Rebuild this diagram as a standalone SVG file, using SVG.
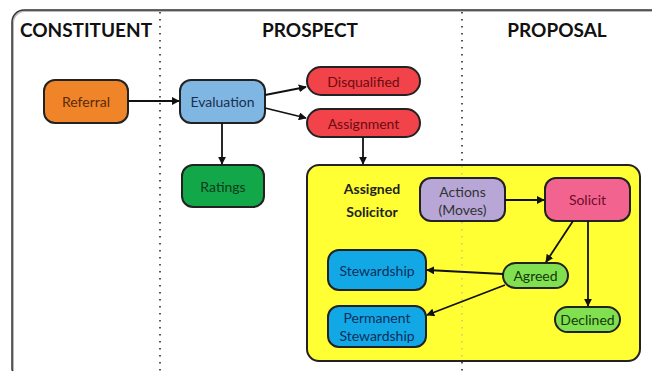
<svg xmlns="http://www.w3.org/2000/svg" width="652" height="371" viewBox="0 0 652 371">
<defs>
<marker id="ah" viewBox="0 0 10 10" refX="9" refY="5" markerWidth="8" markerHeight="8" orient="auto" markerUnits="userSpaceOnUse">
<path d="M0,0 L10,5 L0,10 z" fill="#111"/>
</marker>
<style>
.n{stroke:#222;stroke-width:2}
.t{font-family:Lato,"Open Sans","Liberation Sans",sans-serif;font-size:14px;text-anchor:middle;dominant-baseline:central}
.h{font-family:Lato,"Open Sans","Liberation Sans",sans-serif;font-size:19px;font-weight:bold;text-anchor:middle;fill:#111}
.c line{stroke:#111;stroke-width:1.8;marker-end:url(#ah)}
.dot{stroke:#555;stroke-width:2;stroke-dasharray:1.5 5.5}
</style>
</defs>
<rect width="652" height="371" fill="#fff"/>
<rect x="13" y="11" width="652" height="370" rx="12" fill="none" stroke="#bbb" stroke-width="2"/>
<rect x="12" y="10" width="652" height="370" rx="12" fill="none" stroke="#333" stroke-width="1.5"/>
<line class="dot" x1="160" y1="12" x2="160" y2="371"/>
<line class="dot" x1="462" y1="12" x2="462" y2="371"/>
<text class="h" x="86" y="37">CONSTITUENT</text>
<text class="h" x="310" y="37">PROSPECT</text>
<text class="h" x="557" y="37">PROPOSAL</text>

<g id="assigned-solicitor">
<rect class="n" x="307" y="165" width="333" height="196" rx="12" fill="#FFFF33"/>
<line x1="462" y1="166" x2="462" y2="360" stroke="#c8c880" stroke-width="1.5" stroke-dasharray="1.5 5.5"/>
<text class="t" x="372" y="188" font-weight="bold" fill="#222">Assigned</text>
<text class="t" x="372" y="211" font-weight="bold" fill="#222">Solicitor</text>
</g>
<g id="referral"><rect class="n" x="44" y="80" width="84" height="43" rx="11" fill="#F08428"/><text class="t" x="86" y="101.5" fill="#5a2a0a">Referral</text></g>
<g id="evaluation"><rect class="n" x="180" y="80" width="85" height="43" rx="11" fill="#80B6E2"/><text class="t" x="222.5" y="101.5" fill="#1a2f50">Evaluation</text></g>
<g id="disqualified"><rect class="n" x="307" y="67" width="113" height="28" rx="14" fill="#F2424A"/><text class="t" x="363.5" y="81" fill="#6a0d10">Disqualified</text></g>
<g id="assignment"><rect class="n" x="307" y="109" width="113" height="28" rx="14" fill="#F2424A"/><text class="t" x="363.5" y="123" fill="#6a0d10">Assignment</text></g>
<g id="ratings"><rect class="n" x="182" y="165" width="82" height="42" rx="11" fill="#12A84A"/><text class="t" x="223" y="186" fill="#0c3a1a">Ratings</text></g>
<g id="actions"><rect class="n" x="420" y="178" width="85" height="43" rx="11" fill="#B7A6D6"/><text class="t" x="462.5" y="191" fill="#333">Actions</text><text class="t" x="462.5" y="209" fill="#333">(Moves)</text></g>
<g id="solicit"><rect class="n" x="545" y="178" width="85" height="43" rx="11" fill="#F2638F"/><text class="t" x="587.5" y="199.5" fill="#6a0d28">Solicit</text></g>
<g id="stewardship"><rect class="n" x="328" y="250" width="98" height="40" rx="11" fill="#12A8E6"/><text class="t" x="377" y="270" fill="#0d2f5a">Stewardship</text></g>
<g id="agreed"><rect class="n" x="503" y="263" width="65" height="25" rx="12.5" fill="#80E050"/><text class="t" x="535.5" y="275.5" fill="#153a0a">Agreed</text></g>
<g id="permanent-stewardship"><rect class="n" x="328" y="306" width="98" height="41" rx="11" fill="#12A8E6"/><text class="t" x="377" y="317" fill="#0d2f5a">Permanent</text><text class="t" x="377" y="335" fill="#0d2f5a">Stewardship</text></g>
<g id="declined"><rect class="n" x="555" y="307" width="65" height="25" rx="12.5" fill="#80E050"/><text class="t" x="587.5" y="319.5" fill="#153a0a">Declined</text></g>

<g class="c" id="connectors">
<line x1="128" y1="101" x2="179" y2="101"/>
<line x1="265" y1="95" x2="306" y2="87"/>
<line x1="265" y1="108" x2="306" y2="118"/>
<line x1="222" y1="123" x2="222" y2="164"/>
<line x1="363" y1="137" x2="363" y2="164"/>
<line x1="505" y1="200" x2="544" y2="200"/>
<line x1="573" y1="221" x2="546" y2="262"/>
<line x1="588" y1="221" x2="588" y2="306"/>
<line x1="503" y1="274" x2="427" y2="270"/>
<line x1="505" y1="285" x2="427" y2="315"/>
</g>
</svg>
